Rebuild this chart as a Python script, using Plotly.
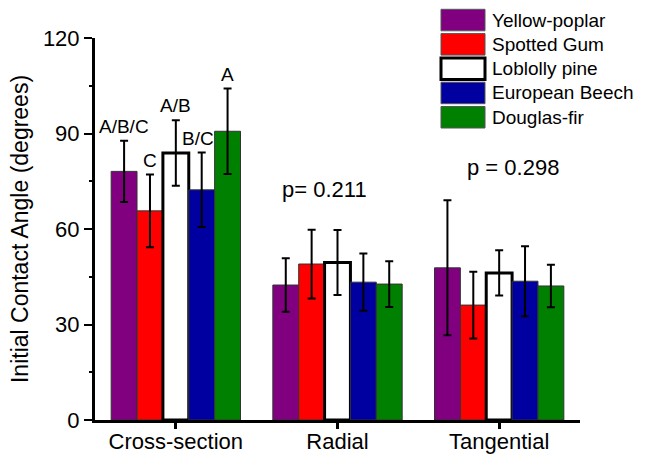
import plotly.graph_objects as go

# Surface orientation of the wood samples
categories = ["Cross-section", "Radial", "Tangential"]

# Species and their bar colours
species = ["Yellow-poplar", "Spotted Gum", "Loblolly pine", "European Beech", "Douglas-fir"]
colors = ["#800080", "#FF0000", "#FFFFFF", "#0000A0", "#008000"]

# Mean initial contact angle (degrees) per species, per orientation
yellow_poplar = [78.1, 42.4, 47.8]
spotted_gum = [65.7, 49.0, 36.1]
loblolly_pine = [83.9, 49.5, 46.2]
european_beech = [72.3, 43.3, 43.6]
douglas_fir = [90.7, 42.7, 42.1]

# Standard deviations
yellow_poplar_sd = [9.6, 8.4, 21.2]
spotted_gum_sd = [11.4, 10.8, 10.5]
loblolly_pine_sd = [10.3, 10.2, 7.1]
european_beech_sd = [11.7, 9.0, 11.0]
douglas_fir_sd = [13.4, 7.2, 6.7]

# Significance groupings on the cross-section, and p-values of the other faces
cross_letters = ["A/B/C", "C", "A/B", "B/C", "A"]
p_labels = ["p= 0.211", "p = 0.298"]
p_positions = [(0.917, 72.3), (2.083, 79.2)]

y_ticks = [0, 30, 60, 90, 120]

means = [yellow_poplar, spotted_gum, loblolly_pine, european_beech, douglas_fir]
sds = [yellow_poplar_sd, spotted_gum_sd, loblolly_pine_sd, european_beech_sd, douglas_fir_sd]

FONT = "Arial, Liberation Sans, sans-serif"
W, H = 645, 457
ML, MR, MT, MB = 95, 65, 38, 37
BARGAP = 0.2

fig = go.Figure()
for name, col, m, s in zip(species, colors, means, sds):
    white = col.upper() == "#FFFFFF"
    fig.add_trace(go.Bar(
        name=name, x=categories, y=m,
        marker=dict(color=col,
                    line=dict(color="black" if white else "#333333",
                              width=3 if white else 1)),
        error_y=dict(type="data", array=s, color="black", thickness=2, width=4),
    ))

# Letters above each cross-section bar
n = len(species)
bar_w = (1 - BARGAP) / n
letter_shift = [0, 0, 0, -4, 0]
for i, (lab, m, s) in enumerate(zip(cross_letters, means, sds)):
    fig.add_annotation(
        x=0 + (i - (n - 1) / 2) * bar_w, y=m[0] + s[0],
        text=lab, showarrow=False, yanchor="bottom", yshift=2,
        xshift=letter_shift[i],
        font=dict(family=FONT, size=19, color="black"),
    )

for lab, (px, py) in zip(p_labels, p_positions):
    fig.add_annotation(x=px, y=py, text=lab, showarrow=False,
                       font=dict(family=FONT, size=22, color="black"))

# Legend drawn as boxes plus labels in paper space
plot_w = W - ML - MR
plot_h = H - MT - MB


def px_x(p):
    return (p - ML) / plot_w


def px_y(p):
    return (H - MB - p) / plot_h


box_left, box_right = 441, 485
row_top0, row_pitch, box_h = 9.3, 24.3, 21.5
for i, (name, col) in enumerate(zip(species, colors)):
    top = row_top0 + i * row_pitch
    white = col.upper() == "#FFFFFF"
    fig.add_shape(
        type="rect", xref="paper", yref="paper",
        x0=px_x(box_left), x1=px_x(box_right),
        y0=px_y(top + box_h), y1=px_y(top),
        fillcolor=col,
        line=dict(color="black" if white else "#555555", width=3 if white else 1),
    )
    fig.add_annotation(
        xref="paper", yref="paper", x=px_x(490), y=px_y(top + box_h / 2),
        xanchor="left", yanchor="middle", text=name, showarrow=False,
        font=dict(family=FONT, size=19, color="black"),
    )

fig.update_layout(
    width=W, height=H,
    margin=dict(l=ML, r=MR, t=MT, b=MB, autoexpand=False),
    plot_bgcolor="white", paper_bgcolor="white",
    barmode="group", bargap=BARGAP, bargroupgap=0,
    showlegend=False,
    font=dict(family=FONT, color="black"),
    xaxis=dict(
        range=[-0.5, 2.5], showline=True, linewidth=3, linecolor="black",
        ticks="outside", ticklen=6, tickwidth=3, tickcolor="black",
        tickfont=dict(size=22), showgrid=False, zeroline=False,
        automargin=False, ticklabelstandoff=-6,
    ),
    yaxis=dict(
        range=[0, 120], tickvals=y_ticks, showline=True, linewidth=3,
        linecolor="black", ticks="outside", ticklen=8, tickwidth=2,
        tickcolor="black", tickfont=dict(size=22), showgrid=False,
        zeroline=False, automargin=False,
        minor=dict(dtick=15, ticks="outside", ticklen=3, tickwidth=2,
                   tickcolor="black", showgrid=False),
        title=dict(text="Initial Contact Angle (degrees)", font=dict(size=23),
                   standoff=8),
    ),
)

fig.write_html("out.html")
